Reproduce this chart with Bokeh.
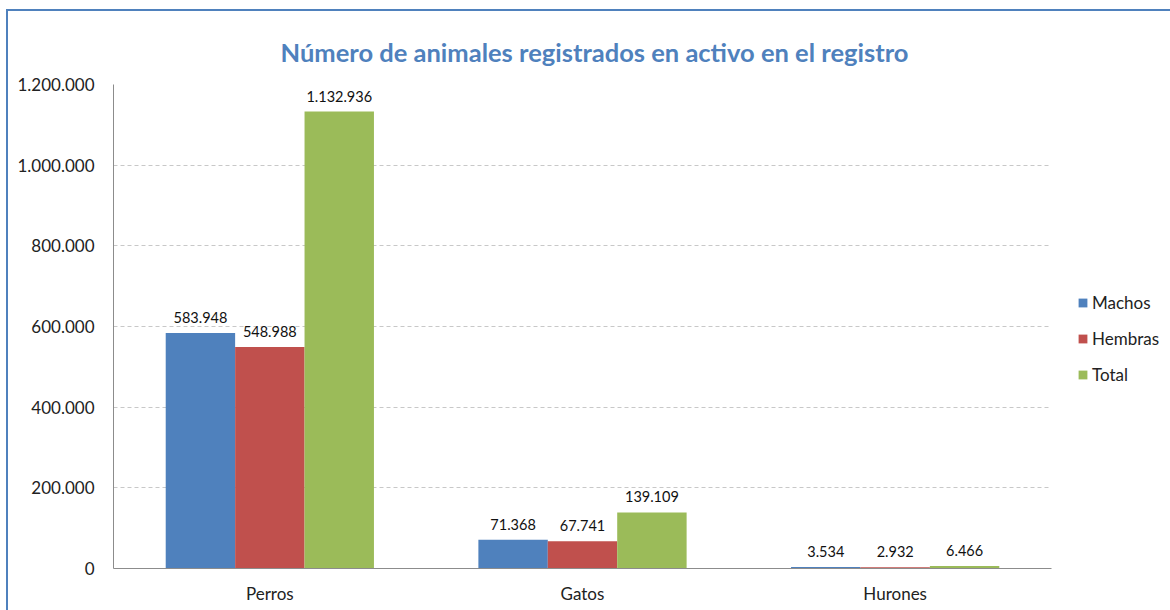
from bokeh.plotting import figure
from bokeh.models import (ColumnDataSource, FactorRange, Range1d, CustomJSTickFormatter,
                          Legend, LegendItem, InlineStyleSheet)
from bokeh.transform import dodge
from bokeh.core.properties import value
from bokeh.embed import file_html
from bokeh.resources import INLINE

categories = ["Perros", "Gatos", "Hurones"]
machos = [583948, 71368, 3534]
hembras = [548988, 67741, 2932]
total = [1132936, 139109, 6466]
series_names = ["Machos", "Hembras", "Total"]
colors = ["#4f81bd", "#c0504d", "#9bbb59"]

def fmt(v):
    return f"{v:,}".replace(",", ".")

src = ColumnDataSource(dict(
    cat=categories,
    Machos=machos, Hembras=hembras, Total=total,
    Machos_lbl=[fmt(v) for v in machos],
    Hembras_lbl=[fmt(v) for v in hembras],
    Total_lbl=[fmt(v) for v in total],
))

FONT = "Lato"

border_css = InlineStyleSheet(css="""
:host { position: relative; }
:host::after {
  content: "";
  position: absolute;
  left: 6px; top: 9px; right: -20px; bottom: -20px;
  border-left: 2.5px solid #4f81bd;
  border-top: 2.5px solid #4f81bd;
  pointer-events: none;
  z-index: 10;
}
""")

p = figure(frame_width=938, frame_height=484, x_range=FactorRange(*categories),
           y_range=Range1d(0, 1200000), output_backend="svg", toolbar_location=None,
           min_border_left=113, min_border_right=111, min_border_top=84, min_border_bottom=34,
           stylesheets=[border_css])

p.title.text = "Número de animales registrados en activo en el registro"
p.title.text_font = FONT
p.title.text_font_size = "25.5px"
p.title.text_color = "#4f81bd"
p.title.align = "left"
p.title.text_font_style = "bold"
p.title.offset = 167
p.title.standoff = 35

bw = 0.222
offsets = [-bw, 0, bw]
items = []
for name, col, off in zip(series_names, colors, offsets):
    r = p.vbar(x=dodge("cat", off, range=p.x_range), top=name, width=bw, source=src,
               fill_color=col, line_color=None)
    p.text(x=dodge("cat", off, range=p.x_range), y=name, text=name + "_lbl", source=src,
           text_align="center", text_baseline="bottom", y_offset=-10,
           text_font=value(FONT), text_font_size="14.5px", text_color="#111111")
    items.append(LegendItem(label=name, renderers=[r]))

legend = Legend(items=items, location=(26, 183), background_fill_alpha=0,
                border_line_color=None, label_text_font=FONT, label_text_font_size="17px",
                glyph_width=11, glyph_height=11, label_height=20, spacing=15, label_standoff=4,
                padding=0, margin=0, label_text_color="#222222")
p.add_layout(legend, "right")

p.xgrid.grid_line_color = None
p.ygrid.grid_line_color = "#c8c8c8"
p.ygrid.grid_line_dash = "4 3"
p.yaxis.ticker = [0, 200000, 400000, 600000, 800000, 1000000, 1200000]
p.yaxis.formatter = CustomJSTickFormatter(code="return tick.toFixed(0).replace(/\\B(?=(\\d{3})+(?!\\d))/g, '.');")

for ax in (p.xaxis, p.yaxis):
    ax.axis_line_color = "#8c8c8c"
    ax.major_tick_line_color = None
    ax.minor_tick_line_color = None
    ax.major_label_text_font = FONT
    ax.major_label_text_font_size = "17px"
    ax.major_label_text_color = "#222222"
p.yaxis.major_label_standoff = 13
p.xaxis.major_label_standoff = 8
p.outline_line_color = None

open("out.html", "w").write(file_html(p, INLINE))
